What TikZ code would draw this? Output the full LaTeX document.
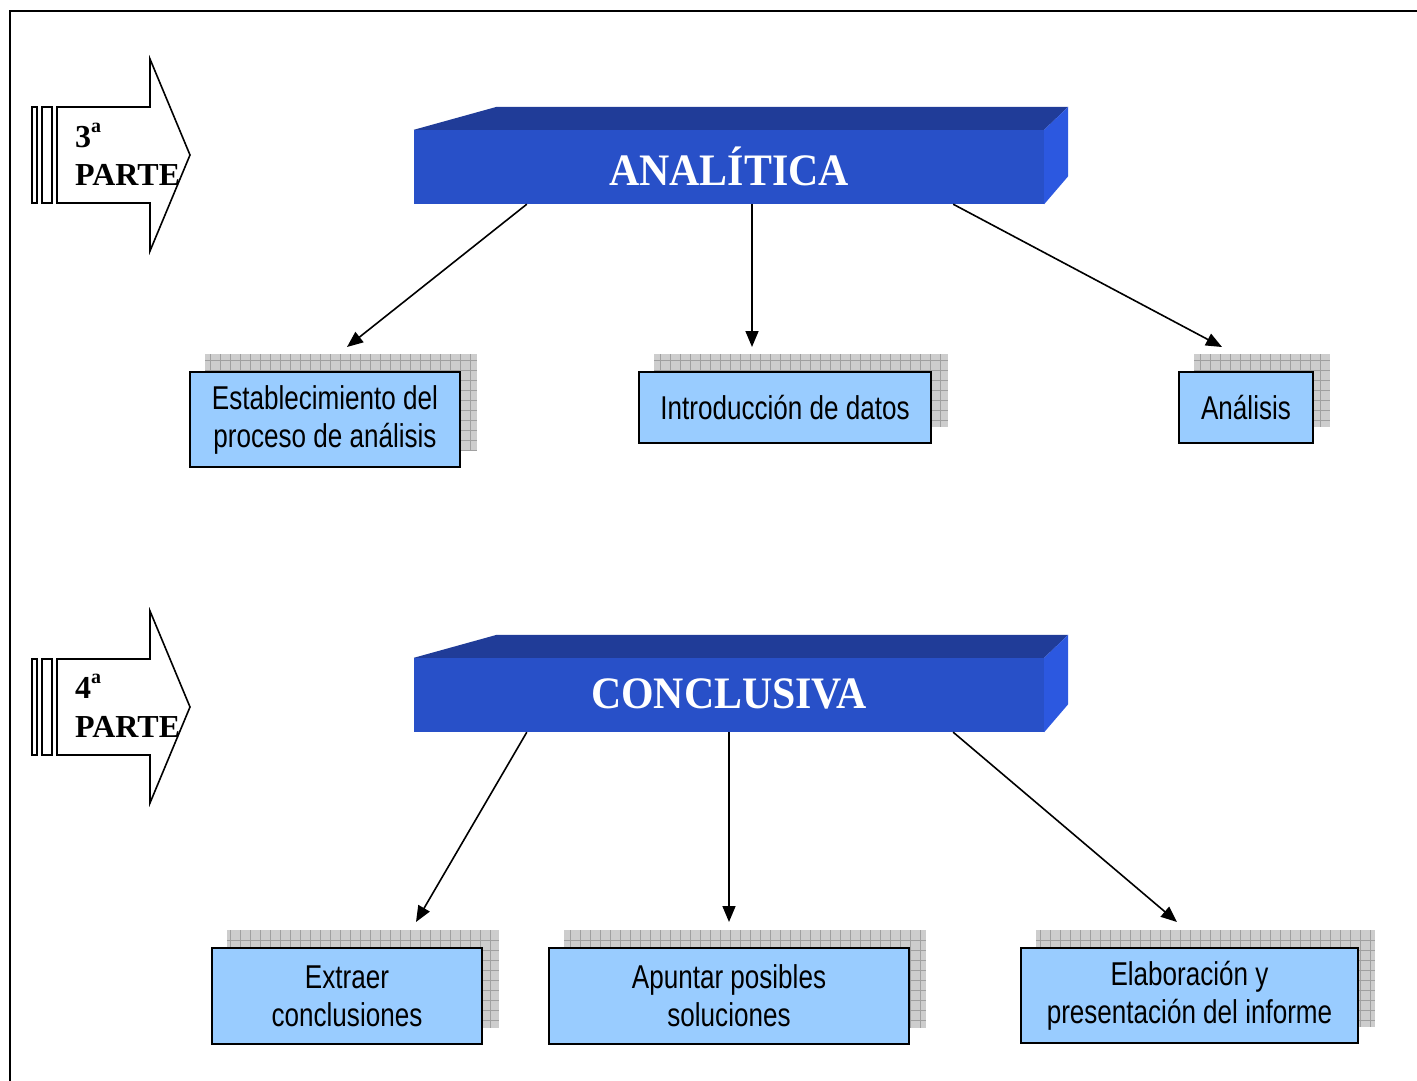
\documentclass[tikz,border=0pt]{standalone}
\usepackage{fontspec}
\setmainfont{Liberation Serif}
\newfontfamily\boxfont[FakeStretch=0.79]{Liberation Sans}
\newfontfamily\bannerfont[FakeStretch=0.93]{Liberation Serif}
\usetikzlibrary{arrows.meta,backgrounds}
\definecolor{frontblue}{HTML}{2850C8}
\definecolor{topblue}{HTML}{203C98}
\definecolor{sideblue}{HTML}{2C58E0}
\definecolor{boxblue}{HTML}{99CCFF}
\definecolor{shadowgray}{HTML}{CDCDCD}
\definecolor{gridgray}{HTML}{A0A0A0}
\tikzset{
  stepbox/.style={draw=black, line width=1.8pt, fill=boxblue, align=center,
    font=\boxfont\fontsize{33}{38}\selectfont, inner sep=0pt},
  banner/.style={fill=frontblue, text=white, inner sep=0pt,
    minimum width=630pt, minimum height=74pt,
    font=\bannerfont\bfseries\fontsize{45}{50}\selectfont},
  link/.style={line width=1.6pt, -{Triangle[length=16pt,width=13pt]}},
  blockarrow/.style={draw=black, line width=1.6pt, fill=white},
  parttext/.style={anchor=base west, inner sep=0pt,
    font=\bfseries\fontsize{32}{36}\selectfont},
}
% textured shadow plate behind a box, shifted right and up
\newcommand\gridshadow[1]{%
  \begin{scope}
    \clip ([shift={(16pt,17pt)}]#1.south west) rectangle ([shift={(16pt,17pt)}]#1.north east);
    \fill[shadowgray] ([shift={(16pt,17pt)}]#1.south west) rectangle ([shift={(16pt,17pt)}]#1.north east);
    \draw[gridgray, line width=0.6pt, step=10pt]
      ([shift={(16pt,17pt)}]#1.south west) grid ([shift={(16pt,17pt)}]#1.north east);
  \end{scope}}
% block arrow with two bars at its tail, shifted down by #1
\newcommand\partarrow[1]{%
  \begin{scope}[yshift=-#1pt]
    \draw[blockarrow] (32,107) rectangle (37,203);
    \draw[blockarrow] (42,107) rectangle (52,203);
    \draw[blockarrow] (57,107) -- (150,107) -- (150,59) -- (190,155)
      -- (150,251) -- (150,203) -- (57,203) -- cycle;
  \end{scope}}
% 3-D banner: top and right faces around a front node
\newcommand\bannerfaces[1]{%
  \fill[topblue] (#1.north west) -- ([xshift=83pt,yshift=23pt]#1.north west)
    -- ([xshift=24pt,yshift=23pt]#1.north east) -- (#1.north east) -- cycle;
  \fill[sideblue] (#1.north east) -- ([xshift=24pt,yshift=23pt]#1.north east)
    -- ([xshift=24pt,yshift=28pt]#1.south east) -- (#1.south east) -- cycle;}
\newcommand\ordsup{\raisebox{0.45em}{\fontsize{20}{20}\selectfont a}}
\begin{document}
\begin{tikzpicture}[x=1pt,y=-1pt]
  \useasboundingbox (0,0) rectangle (1417,1081);
  \begin{scope}[on background layer]
    \fill[white] (0,0) rectangle (1417,1081);
  \end{scope}
  % page frame
  \draw[line width=1.8pt] (1417,11) -- (10,11) -- (10,1081);

  % part markers
  \partarrow{0}
  \partarrow{552}
  \node[parttext] (n3) at (75,147) {3\ordsup};
  \node[parttext] (p3) at (75,185) {PARTE};
  \node[parttext] (n4) at (75,698) {4\ordsup};
  \node[parttext] (p4) at (75,737) {PARTE};

  % banners
  \node[banner] (ana) at (729,167) {\raisebox{2pt}{ANALÍTICA}};
  \node[banner] (con) at (729,695) {\raisebox{2pt}{CONCLUSIVA}};
  \begin{scope}[on background layer]
    \bannerfaces{ana}
    \bannerfaces{con}
  \end{scope}

  % boxes of the third part
  \node[stepbox, minimum width=270pt, minimum height=95pt] (est) at (325,419.5)
    {Establecimiento del\\proceso de análisis};
  \node[stepbox, minimum width=292pt, minimum height=71pt] (intro) at (785,407.5)
    {Introducción de datos};
  \node[stepbox, minimum width=134pt, minimum height=71pt] (anal) at (1246,407.5)
    {Análisis};

  % boxes of the fourth part
  \node[stepbox, minimum width=270pt, minimum height=96pt] (extr) at (347,996)
    {Extraer\\conclusiones};
  \node[stepbox, minimum width=360pt, minimum height=96pt] (apun) at (729,996)
    {Apuntar posibles\\soluciones};
  \node[stepbox, minimum width=337pt, minimum height=95pt] (elab) at (1189.5,995.5)
    {Elaboración y\\presentación del informe};

  \begin{scope}[on background layer]
    \gridshadow{est}
    \gridshadow{intro}
    \gridshadow{anal}
    \gridshadow{extr}
    \gridshadow{apun}
    \gridshadow{elab}
  \end{scope}

  % arrow tips
  \coordinate (t1) at (347,347);
  \coordinate (t2) at (752,347);
  \coordinate (t3) at (1222,347);
  \coordinate (t4) at (416,922);
  \coordinate (t5) at (729,922);
  \coordinate (t6) at (1177,922);

  \draw[link] ([xshift=113pt]ana.south west) -- (t1);
  \draw[link] ([xshift=23pt]ana.south) -- (t2);
  \draw[link] ([xshift=-91pt]ana.south east) -- (t3);
  \draw[link] ([xshift=113pt]con.south west) -- (t4);
  \draw[link] (con.south) -- (t5);
  \draw[link] ([xshift=-91pt]con.south east) -- (t6);
\end{tikzpicture}
\end{document}
